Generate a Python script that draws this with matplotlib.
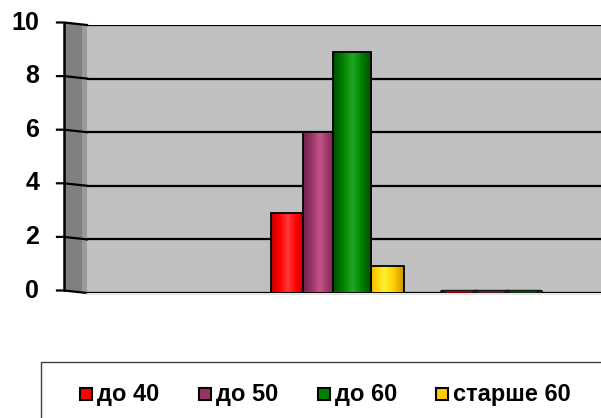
import numpy as np
import matplotlib.pyplot as plt
from matplotlib.patches import Rectangle, Polygon
from matplotlib.colors import LinearSegmentedColormap

# данные
groups = [0, 1, 2]
series = ["до 40", "до 50", "до 60", "старше 60"]
vals_40 = [np.nan, 3, 0]
vals_50 = [np.nan, 6, 0]
vals_60 = [np.nan, 9, 0]
vals_old = [np.nan, 1, np.nan]
yticks = [0, 2, 4, 6, 8, 10]

colors = ["#FF0000", "#993366", "#008000", "#FFCC00"]
lights = ["#FF3A3A", "#C4578A", "#22A822", "#FFF030"]
darks = ["#C00000", "#6E2249", "#004E00", "#C89600"]

plt.rcParams['font.family'] = ['Liberation Sans', 'DejaVu Sans']
plt.rcParams['font.weight'] = 'bold'

W, H = 601, 418
fig = plt.figure(figsize=(W / 100, H / 100), dpi=100)
fig.patch.set_facecolor("white")

def px(x, y):
  return (x / W, 1 - y / H)

# задняя стенка
l, t = px(87, 25)
r, b = px(601, 293)
ax = fig.add_axes([l, b, r - l, t - b])
ax.set_facecolor("#C0C0C0")
xmin = -0.454
for v in yticks:
  ax.axhline(v, color="black", lw=1.6, zorder=1)
for s in ax.spines.values():
  s.set_visible(False)
ax.set_xticks([])
ax.set_yticks([])
ax.set_xlim(xmin, xmin + 3)
ax.set_ylim(0, 10)

# боковая стенка
side = Polygon([px(64, 23), px(87, 25), px(87, 293), px(64, 290)], closed=True,
               transform=fig.transFigure, facecolor="#808080", edgecolor="none")
fig.patches.append(side)
side_light = Polygon([px(82, 25), px(87, 25), px(87, 293), px(82, 292)], closed=True,
                     transform=fig.transFigure, facecolor="#9A9A9A", edgecolor="none")
fig.patches.append(side_light)
for v in yticks:
  yp = ax.transData.transform((0, v))[1]
  ypl = yp + 2.5
  fig.lines.append(plt.Line2D([57 / W, 64 / W, 87 / W], [ypl / H, ypl / H, yp / H],
                              transform=fig.transFigure, color="black", lw=1.6))
  fig.text(39 / W, ypl / H, str(v), ha="right", va="center", fontsize=18, fontweight="bold")
fig.lines.append(plt.Line2D([64 / W, 64 / W], [(H - 23) / H, (H - 290) / H],
                            transform=fig.transFigure, color="black", lw=1.8))
# пол
fig.lines.append(plt.Line2D([87 / W, 601 / W], [(H - 294) / H, (H - 294) / H],
                            transform=fig.transFigure, color="#E0E0E0", lw=1.2))

# столбцы
all_vals = [vals_40, vals_50, vals_60, vals_old]
bw = 0.187
offsets = [-0.28, -0.093, 0.093, 0.28]
zord = [3, 4, 5, 2]
grad = np.linspace(0, 1, 64)
for i, vals in enumerate(all_vals):
  xs = np.array(groups) + offsets[i]
  cm = LinearSegmentedColormap.from_list("c%d" % i, [darks[i], colors[i], lights[i], colors[i], darks[i]])
  for x, v in zip(xs, vals):
    if np.isnan(v):
      continue
    if v <= 0:
      # плоский "нулевой" столбец
      ax.plot([x - bw / 2 - 0.01, x + bw / 2 + 0.01], [0.04, 0.04], color="#1A1A1A",
              lw=3.2, solid_capstyle="round", zorder=zord[i])
      ax.plot([x - bw / 2 + 0.02, x + bw / 2 - 0.02], [0.03, 0.03], color=darks[i],
              lw=1.2, solid_capstyle="round", zorder=zord[i] + 0.1, alpha=0.8)
      continue
    w = bw + 0.04 if i >= 2 else bw + 0.01
    rect = ax.bar(x, v, width=w, color=colors[i], edgecolor="none", zorder=zord[i])[0]
    x0 = rect.get_x()
    im = ax.imshow(grad[None, :], cmap=cm, aspect="auto",
                   extent=[x0, x0 + w, 0, v], zorder=zord[i] + 0.1)
    im.set_clip_path(rect)
    ax.bar(x, v, width=w, facecolor="none", edgecolor="black", lw=1.3, zorder=zord[i] + 0.2)
ax.set_xlim(xmin, xmin + 3)
ax.set_ylim(0, 10)

# легенда
fig.patches.append(Rectangle(px(41, 425), 600 / W, 63 / H, transform=fig.transFigure,
                             facecolor="white", edgecolor="#404040", lw=1))
leg_x = [79, 198, 317, 435]
for i, name in enumerate(series):
  fig.patches.append(Rectangle(px(leg_x[i] + 1, 400), 12 / W, 12 / H, transform=fig.transFigure,
                               facecolor=colors[i], edgecolor="black", lw=1.5))
  fig.text((leg_x[i] + 18) / W, 1 - 394 / H, name, ha="left", va="center",
           fontsize=17, fontweight="bold")

fig.savefig("out.png", dpi=100)
